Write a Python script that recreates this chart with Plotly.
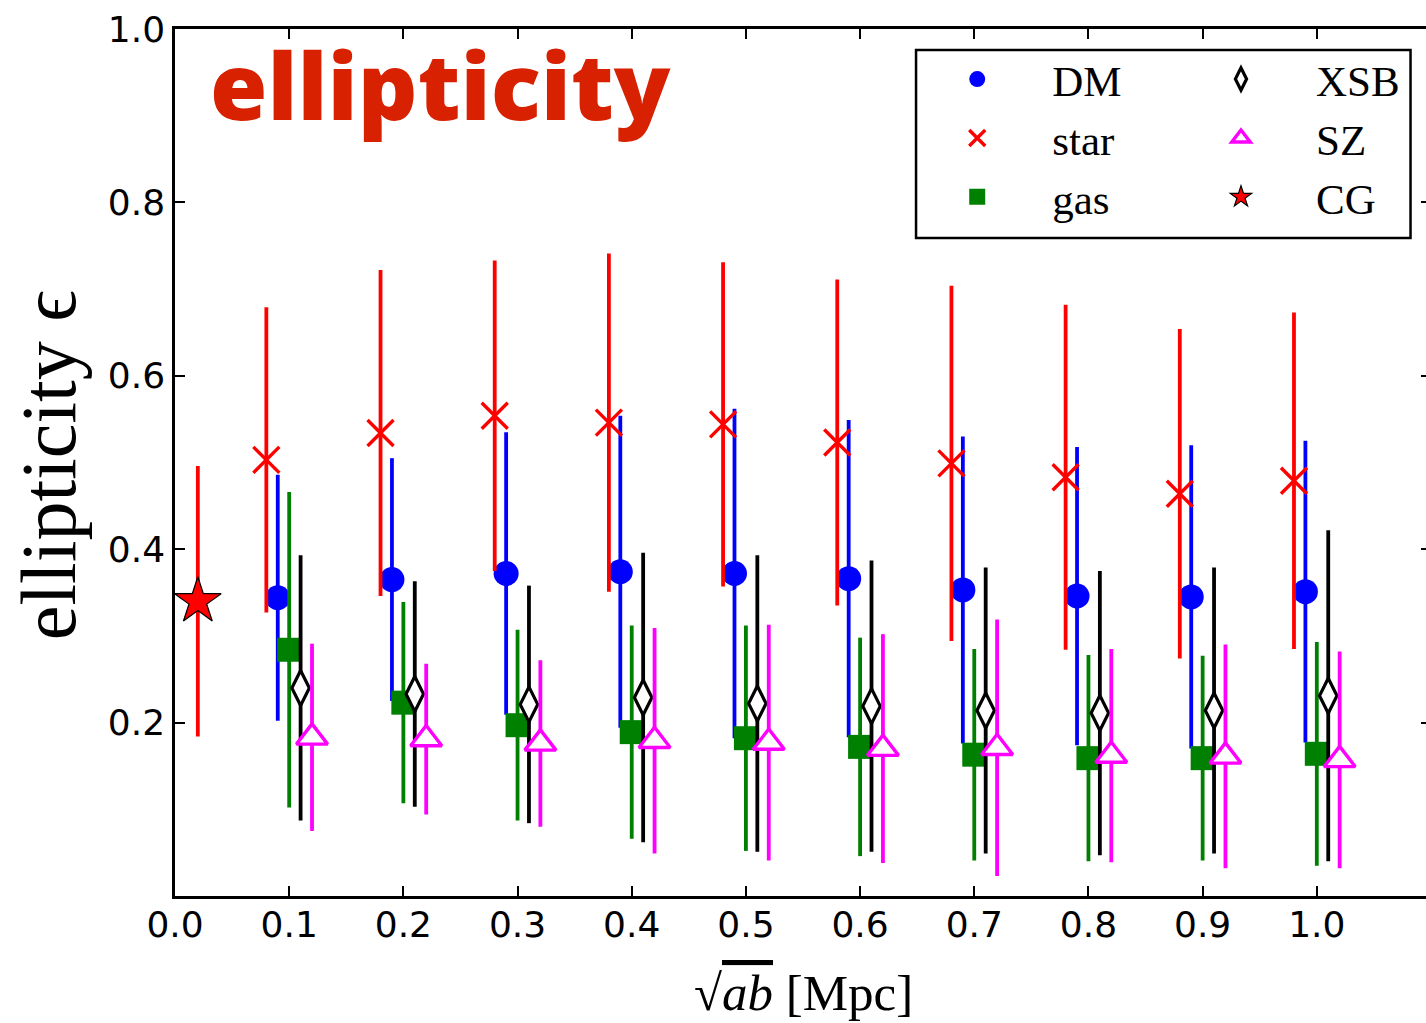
import plotly.graph_objects as go

# Radial bins (sqrt(ab) in Mpc) and per-component ellipticity with 1-sigma scatter
radius = [0.1, 0.2, 0.3, 0.4, 0.5, 0.6, 0.7, 0.8, 0.9, 1.0]

dm_eps = [0.344, 0.365, 0.372, 0.374, 0.372, 0.366, 0.353, 0.346, 0.345, 0.351]
dm_err = [0.142, 0.140, 0.163, 0.180, 0.190, 0.183, 0.177, 0.172, 0.175, 0.174]

star_eps = [0.503, 0.534, 0.554, 0.546, 0.544, 0.523, 0.499, 0.483, 0.464, 0.479]
star_err = [0.176, 0.188, 0.179, 0.195, 0.187, 0.188, 0.205, 0.199, 0.190, 0.194]

gas_eps = [0.284, 0.223, 0.197, 0.189, 0.182, 0.172, 0.163, 0.159, 0.159, 0.164]
gas_err = [0.182, 0.116, 0.110, 0.123, 0.130, 0.126, 0.122, 0.119, 0.118, 0.129]

xsb_eps = [0.240, 0.233, 0.221, 0.229, 0.222, 0.219, 0.214, 0.211, 0.214, 0.231]
xsb_err = [0.153, 0.130, 0.137, 0.167, 0.171, 0.168, 0.165, 0.164, 0.165, 0.191]

sz_eps = [0.183, 0.181, 0.176, 0.179, 0.177, 0.170, 0.171, 0.162, 0.161, 0.157]
sz_err = [0.108, 0.087, 0.096, 0.130, 0.136, 0.132, 0.148, 0.123, 0.129, 0.125]

cg_radius = [0.02]
cg_eps = [0.340]
cg_err = [0.156]

# small horizontal shifts so the five components in a bin do not overlap
SHIFT = {"star": -0.02, "DM": -0.01, "gas": 0.0, "XSB": 0.01, "SZ": 0.02}


def shifted(key):
    return [r + SHIFT[key] for r in radius]


SERIF = "Liberation Serif, Times New Roman, serif"
SANS = "DejaVu Sans, sans-serif"

fig = go.Figure()


def add_series(name, x, y, err, color, marker, legend, rank):
    fig.add_trace(go.Scatter(
        x=x, y=y, mode="markers", name=name,
        error_y=dict(type="data", array=err, visible=True, color=color,
                     thickness=3.8, width=0),
        marker=marker, legend=legend, legendrank=rank,
    ))


add_series("DM", shifted("DM"), dm_eps, dm_err, "#0000ff",
           dict(symbol="circle", size=25, color="#0000ff", line=dict(width=0)),
           "legend", 1)
add_series("star", shifted("star"), star_eps, star_err, "#ff0000",
           dict(symbol="x-thin", size=26, color="#ff0000",
                line=dict(width=3.4, color="#ff0000")),
           "legend", 2)
add_series("gas", shifted("gas"), gas_eps, gas_err, "#008000",
           dict(symbol="square", size=24, color="#008000", line=dict(width=0)),
           "legend", 3)
add_series("XSB", shifted("XSB"), xsb_eps, xsb_err, "#000000",
           dict(symbol="diamond-tall", size=25, color="#ffffff",
                line=dict(width=3.2, color="#000000")),
           "legend2", 4)
add_series("SZ", shifted("SZ"), sz_eps, sz_err, "#ff00ff",
           dict(symbol="triangle-up", size=27, color="#ffffff",
                line=dict(width=3.4, color="#ff00ff")),
           "legend2", 5)
add_series("CG", cg_radius, cg_eps, cg_err, "#ff0000",
           dict(symbol="star", size=35, color="#ff0000",
                line=dict(width=1.2, color="#000000")),
           "legend2", 6)

axis_common = dict(
    showline=True, linecolor="black", linewidth=2.5, mirror="ticks",
    ticks="inside", ticklen=10, tickwidth=1.5, tickcolor="black",
    showgrid=False, zeroline=False,
    tickfont=dict(family=SANS, size=36, color="black"),
)

fig.update_xaxes(range=[0.0, 1.1], tickvals=[0.0, 0.1, 0.2, 0.3, 0.4, 0.5, 0.6, 0.7, 0.8, 0.9, 1.0],
                 tickformat=".1f", ticklabelstandoff=-5, **axis_common)
fig.update_yaxes(range=[0.0, 1.0], tickvals=[0.2, 0.4, 0.6, 0.8, 1.0],
                 tickformat=".1f", **axis_common)

legend_font = dict(family=SERIF, size=43, color="black")
legend_common = dict(yanchor="top", xanchor="left", font=legend_font,
                     bgcolor="rgba(0,0,0,0)", itemwidth=140,
                     tracegroupgap=0, itemsizing="trace")
fig.update_layout(
    width=1436, height=1023,
    margin=dict(l=175, r=2, t=29, b=127),
    paper_bgcolor="white", plot_bgcolor="white",
    showlegend=True,
    legend=dict(x=0.579, y=0.982, **legend_common),
    legend2=dict(x=0.789, y=0.982, **legend_common),
    shapes=[dict(type="rect", xref="paper", yref="paper",
                 x0=0.59, x1=0.9837, y0=0.7588, y1=0.9758,
                 line=dict(color="black", width=2.5), fillcolor="rgba(0,0,0,0)")],
    annotations=[
        dict(text="ellipticity", xref="paper", yref="paper", x=0.026, y=1.012,
             xanchor="left", yanchor="top", showarrow=False,
             font=dict(family="Open Sans, Lato, sans-serif", size=93,
                       color="#d82100", weight=800)),
        dict(text="ellipticity ϵ", xref="paper", yref="paper", x=-0.101, y=0.497,
             xanchor="center", yanchor="middle", textangle=-90, showarrow=False,
             font=dict(family=SERIF, size=78, color="black")),
        dict(text="√<span style='text-decoration:overline'><i>ab</i></span> [Mpc]",
             xref="paper", yref="paper", x=0.5, y=-0.112,
             xanchor="center", yanchor="middle", showarrow=False,
             font=dict(family=SERIF, size=51, color="black")),
    ],
)

fig.write_html("out.html",
               post_script="document.documentElement.style.overflow='hidden';"
                           "document.body.style.overflow='hidden';")
